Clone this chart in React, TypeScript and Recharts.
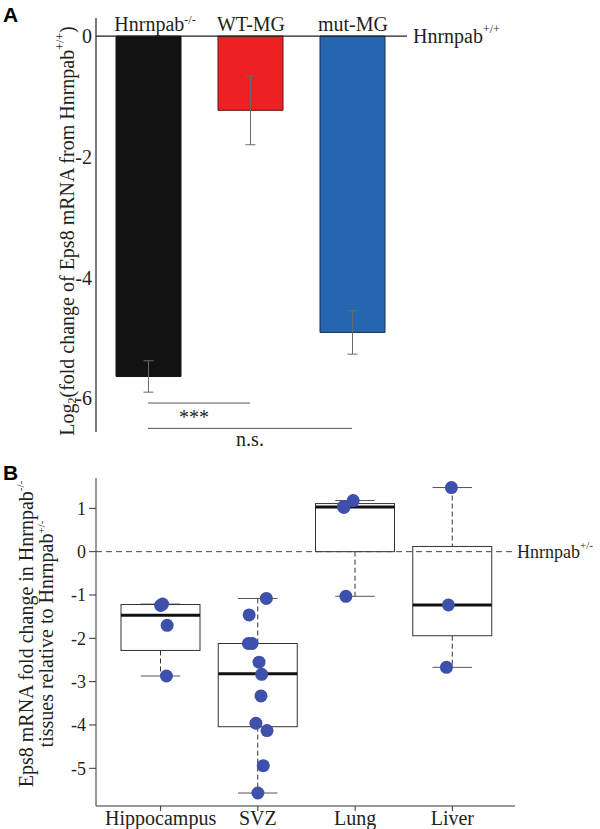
import React from "react";
import {
  Bar,
  BarChart,
  Cell,
  ComposedChart,
  ErrorBar,
  ReferenceLine,
  Scatter,
  XAxis,
  YAxis,
} from "recharts";

// ---- panel A: log2 fold change bars
const groups = ["Hnrnpab-/-", "WT-MG", "mut-MG"];
const log2Change = [-5.64, -1.23, -4.91];
const semA = [0.26, 0.57, 0.36];
const yTicksA = [0, -2, -4, -6];
const sigLines = [
  { from: 0, to: 1, y: -6.08, text: "***" },
  { from: 0, to: 2, y: -6.5, text: "n.s." },
];

// ---- panel B: box plots per tissue
const tissues = ["Hippocampus", "SVZ", "Lung", "Liver"];
const whiskerLow = [-2.87, -5.57, -1.03, -2.67];
const lowerHinge = [-2.28, -4.04, 0.0, -1.94];
const medians = [-1.47, -2.82, 1.03, -1.23];
const upperHinge = [-1.22, -2.12, 1.11, 0.12];
const whiskerHigh = [-1.21, -1.08, 1.18, 1.48];
const yTicksB = [1, 0, -1, -2, -3, -4, -5];

const hippocampusPts = [-1.21, -1.24, -1.7, -2.87];
const hippocampusJit = [0.02, 0.0, 0.067, 0.06];
const svzPts = [-1.08, -1.46, -2.12, -2.12, -2.55, -2.83, -3.33, -3.96, -4.13, -4.94, -5.57];
const svzJit = [0.087, -0.09, -0.098, -0.06, 0.012, 0.039, 0.032, -0.02, 0.094, 0.055, 0.0];
const lungPts = [1.18, 1.04, 1.02, -1.03];
const lungJit = [-0.02, -0.12, -0.115, -0.095];
const liverPts = [1.48, -1.23, -2.67];
const liverJit = [-0.01, -0.041, -0.061];

const FONT = "'Liberation Serif', 'Times New Roman', serif";
const INK = "#231f20";
const barFill = ["#121212", "#ed2024", "#2566b0"];
const barStroke = ["#121212", "#5c1414", "#1a2f55"];
const DOT = "#3d50ab";

const rowsA = groups.map((g, i) => ({ group: g, value: log2Change[i], err: semA[i] }));

const rowsB = tissues.map((t, i) => ({
  tissue: t,
  range: [whiskerLow[i], whiskerHigh[i]],
  lo: whiskerLow[i],
  q1: lowerHinge[i],
  med: medians[i],
  q3: upperHinge[i],
  hi: whiskerHigh[i],
}));

const ptsByTissue = [hippocampusPts, svzPts, lungPts, liverPts];
const jitByTissue = [hippocampusJit, svzJit, lungJit, liverJit];
const dots = ptsByTissue.flatMap((vals, i) =>
  vals.map((v, j) => ({ x: i + 1 + jitByTissue[i][j], y: v }))
);

function GroupTick(props: any) {
  const { x, y, payload } = props;
  const name: string = payload.value;
  const sup = name.startsWith("Hnrnpab");
  return (
    <text x={x + (sup ? 7 : 1)} y={y + 13} textAnchor="middle" fontSize={20} fill={INK} fontFamily={FONT}>
      {sup ? (
        <>
          Hnrnpab
          <tspan dy={-7} fontSize={12}>
            {name.slice(7)}
          </tspan>
        </>
      ) : (
        name
      )}
    </text>
  );
}

function YLabelA(props: any) {
  const vb = props.viewBox;
  const cx = vb.x + 67;
  const cy = vb.y + vb.height / 2 + 6;
  return (
    <text
      x={cx}
      y={cy}
      transform={`rotate(-90 ${cx} ${cy})`}
      textAnchor="middle"
      dominantBaseline="central"
      fontSize={20}
      fill={INK}
      fontFamily={FONT}
    >
      Log
      <tspan dy={5} fontSize={12}>2</tspan>
      <tspan dy={-5}>(fold change of Eps8 mRNA from Hnrnpab</tspan>
      <tspan dy={-7} fontSize={12}>+/+</tspan>
      <tspan dy={7}>)</tspan>
    </text>
  );
}

function YLabelB(props: any) {
  const vb = props.viewBox;
  const cy = vb.y + vb.height / 2 - 8;
  const x1 = vb.x + 26;
  const x2 = vb.x + 46;
  return (
    <g fontSize={20} fill={INK} fontFamily={FONT}>
      <text x={x1} y={cy} transform={`rotate(-90 ${x1} ${cy})`} textAnchor="middle" dominantBaseline="central">
        Eps8 mRNA fold change in Hnrnpab
        <tspan dy={-6} fontSize={11}>-/-</tspan>
      </text>
      <text x={x2} y={cy} transform={`rotate(-90 ${x2} ${cy})`} textAnchor="middle" dominantBaseline="central">
        tissues relative to Hnrnpab
        <tspan dy={-5} fontSize={11}>+/-</tspan>
      </text>
    </g>
  );
}

function SideLabel(props: any) {
  const vb = props.viewBox;
  return (
    <text
      x={vb.x + vb.width + props.gap}
      y={vb.y}
      dominantBaseline="central"
      fontSize={props.size}
      fill={INK}
      fontFamily={FONT}
    >
      Hnrnpab
      <tspan dy={-7} fontSize={props.supSize}>{props.sup}</tspan>
    </text>
  );
}

function SigLabel(props: any) {
  const vb = props.viewBox;
  return (
    <text
      x={vb.x + vb.width / 2 + props.dx}
      y={vb.y + props.dy}
      textAnchor="middle"
      fontSize={20}
      fill={INK}
      fontFamily={FONT}
    >
      {props.text}
    </text>
  );
}

function BoxShape(props: any) {
  const { x, y, width, height, payload } = props;
  const top = Math.min(y, y + height);
  const bottom = Math.max(y, y + height);
  const { hi, lo, q1, q3, med } = payload;
  const toY = (v: number) => (hi === lo ? top : top + ((hi - v) / (hi - lo)) * (bottom - top));
  const cx = x + width / 2;
  const cap = width / 4;
  return (
    <g>
      <line x1={cx} x2={cx} y1={toY(hi)} y2={toY(q3)} stroke="#333" strokeDasharray="5 3" />
      <line x1={cx} x2={cx} y1={toY(q1)} y2={toY(lo)} stroke="#333" strokeDasharray="5 3" />
      <line x1={cx - cap} x2={cx + cap} y1={toY(hi)} y2={toY(hi)} stroke="#555" />
      <line x1={cx - cap} x2={cx + cap} y1={toY(lo)} y2={toY(lo)} stroke="#555" />
      <rect x={x} y={toY(q3)} width={width} height={toY(q1) - toY(q3)} fill="none" stroke="#333" />
      <line x1={x} x2={x + width} y1={toY(med)} y2={toY(med)} stroke="#111" strokeWidth={3} />
    </g>
  );
}

function Dot(props: any) {
  return <circle cx={props.cx} cy={props.cy} r={6.5} fill={DOT} />;
}

const panelLetter = (top: number): React.CSSProperties => ({
  position: "absolute",
  left: 3,
  top,
  fontFamily: "'Liberation Sans', Arial, sans-serif",
  fontWeight: 700,
  fontSize: 21,
  lineHeight: "21px",
  color: "#000",
});

export default function App() {
  return (
    <div style={{ position: "absolute", left: 0, top: 0, width: 600, height: 829, background: "#fff", fontFamily: FONT }}>
      <div style={{ position: "absolute", left: 0, top: 0 }}>
        <BarChart width={600} height={450} data={rowsA} margin={{ top: 17, right: 193, bottom: 18, left: 0 }}>
          <XAxis
            dataKey="group"
            orientation="top"
            height={1}
            axisLine={false}
            tickLine={false}
            tickSize={0}
            tickMargin={0}
            padding={{ left: 1, right: 4 }}
            interval={0}
            tick={<GroupTick />}
          />
          <YAxis
            width={96}
            domain={[-6.56, 0.3]}
            allowDataOverflow
            ticks={yTicksA}
            tickLine={false}
            tickSize={2}
            tickMargin={2}
            axisLine={{ stroke: INK, strokeWidth: 1.2 }}
            tick={{ fontSize: 20, fill: INK, fontFamily: FONT }}
            label={<YLabelA />}
          />
          <Bar dataKey="value" barSize={65} isAnimationActive={false}>
            {rowsA.map((r, i) => (
              <Cell key={r.group} fill={barFill[i]} stroke={barStroke[i]} strokeWidth={1} />
            ))}
            <ErrorBar dataKey="err" width={5} stroke="#6a6a6a" strokeWidth={1} />
          </Bar>
          <ReferenceLine
            y={0}
            stroke={INK}
            strokeWidth={1.3}
            label={<SideLabel sup="+/+" size={20} supSize={12} gap={6} />}
          />
          {sigLines.map((s) => (
            <ReferenceLine
              key={s.text}
              segment={[
                { x: groups[s.from], y: s.y },
                { x: groups[s.to], y: s.y },
              ]}
              ifOverflow="visible"
              stroke="#555"
              strokeWidth={1}
              label={<SigLabel text={s.text} dx={s.text === "***" ? -5 : 0} dy={s.text === "***" ? 21 : 18} />}
            />
          ))}
        </BarChart>
      </div>
      <div style={{ position: "absolute", left: 0, top: 450 }}>
        <ComposedChart width={600} height={379} data={rowsB} margin={{ top: 28, right: 85, bottom: 0, left: 0 }}>
          <XAxis
            xAxisId="cat"
            dataKey="tissue"
            height={23}
            padding={{ left: 16, right: 14 }}
            interval={0}
            tickSize={5}
            tickMargin={0}
            axisLine={{ stroke: "#333" }}
            tickLine={{ stroke: "#333" }}
            tick={{ fontSize: 20, fill: INK, fontFamily: FONT }}
          />
          <XAxis
            xAxisId="num"
            type="number"
            dataKey="x"
            domain={[0.5, 4.5]}
            allowDataOverflow
            padding={{ left: 16, right: 14 }}
            hide
          />
          <YAxis
            width={96}
            domain={[-5.87, 1.7]}
            allowDataOverflow
            ticks={yTicksB}
            interval={0}
            tickSize={7}
            tickMargin={3}
            axisLine={{ stroke: "#333" }}
            tickLine={{ stroke: "#333" }}
            tick={{ fontSize: 18, fill: INK, fontFamily: FONT }}
            label={<YLabelB />}
          />
          <ReferenceLine
            xAxisId="cat"
            y={0}
            stroke="#444"
            strokeDasharray="6 4"
            label={<SideLabel sup="+/-" size={18} supSize={11} gap={2} />}
          />
          <Bar xAxisId="cat" dataKey="range" barSize={79} shape={<BoxShape />} isAnimationActive={false} />
          <Scatter xAxisId="num" data={dots} dataKey="y" shape={<Dot />} isAnimationActive={false} />
        </ComposedChart>
      </div>
      <div style={panelLetter(4)}>A</div>
      <div style={panelLetter(462)}>B</div>
    </div>
  );
}
